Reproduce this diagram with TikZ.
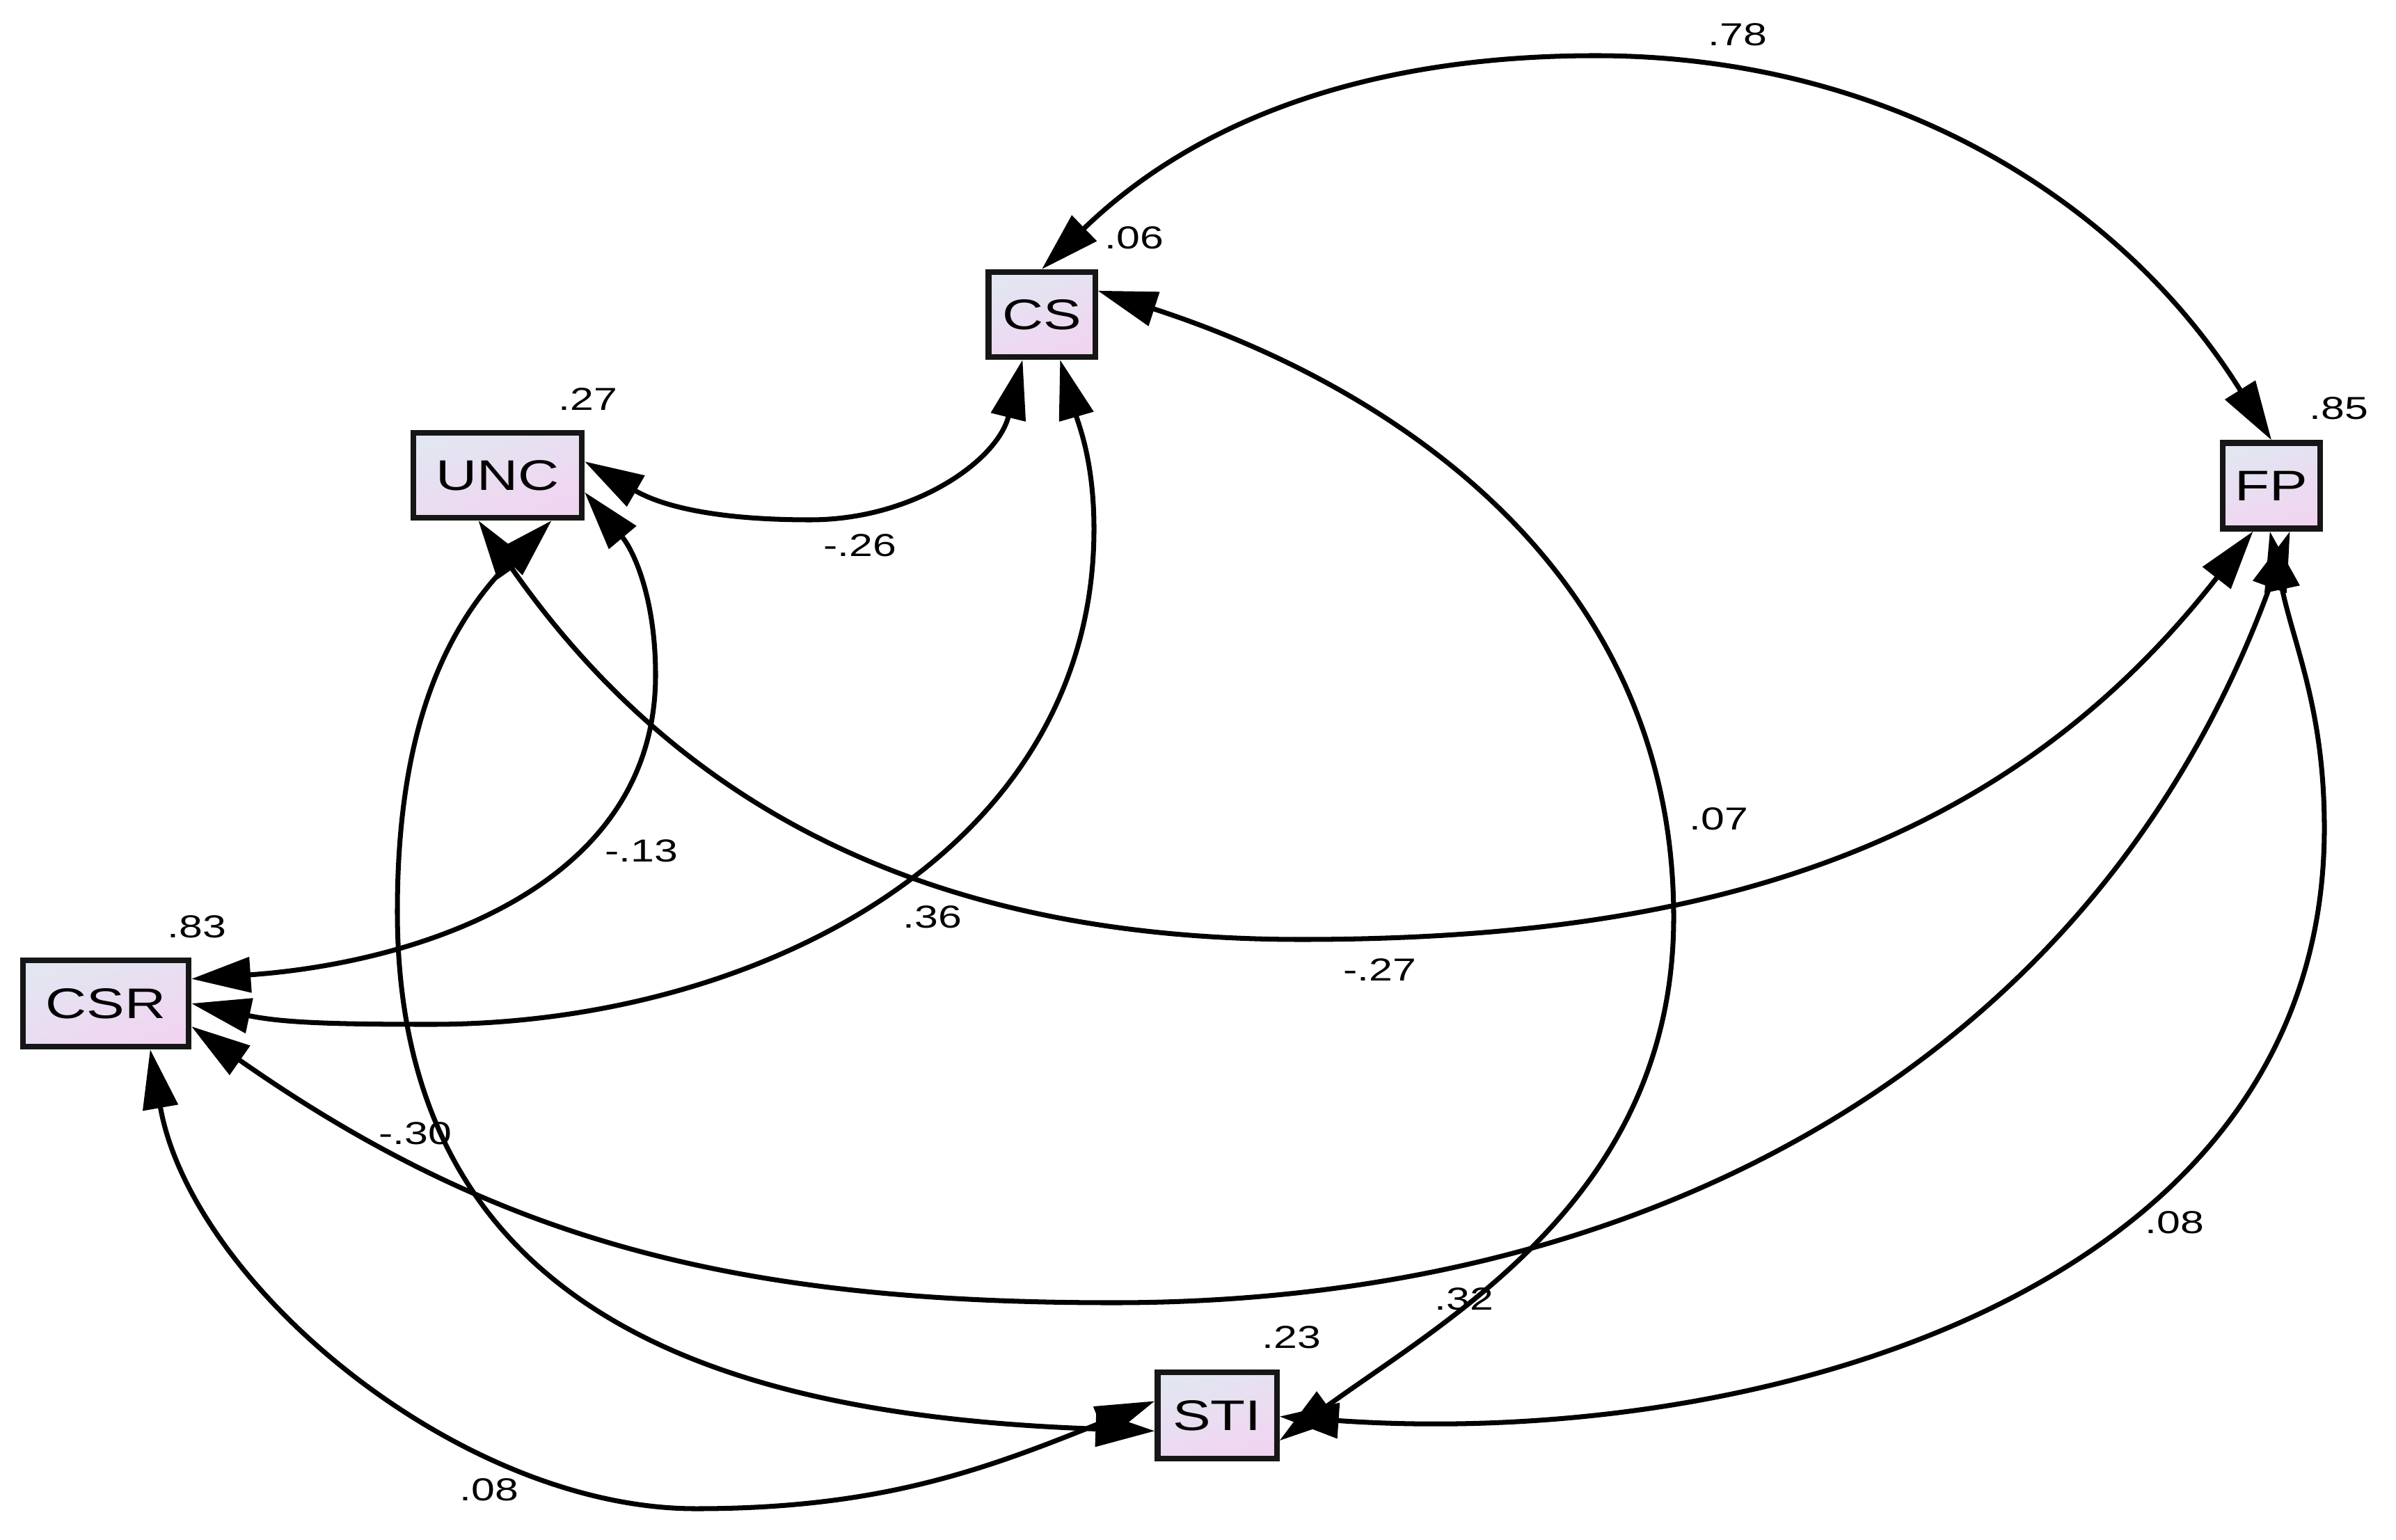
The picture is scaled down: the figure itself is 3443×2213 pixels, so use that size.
\documentclass[tikz,border=0pt]{standalone}
\usepackage{fontspec}
\setmainfont{Liberation Sans}
\newfontfamily\stretchfont[FakeStretch=1.33]{Liberation Sans}
\usetikzlibrary{arrows.meta}
\definecolor{boxA}{RGB}{226,230,241}
\definecolor{boxB}{RGB}{241,212,241}
\definecolor{boxedge}{RGB}{22,22,22}
\begin{document}
\begin{tikzpicture}[x=0.01cm, y=0.01cm,
  var/.style={draw=boxedge, line width=2.3pt, top color=boxA, bottom color=boxB, shading angle=20,
              inner sep=0pt, font=\stretchfont\fontsize{17.5}{20}\selectfont},
  lbl/.style={inner sep=0pt, font=\stretchfont\fontsize{13}{15}\selectfont},
  cov/.style={line width=2pt, {Triangle[length=8.5mm,width=5mm]}-{Triangle[length=8.5mm,width=5mm]}},
]
\fill[white] (0,0) rectangle (3443,-2213);
\useasboundingbox (0,0) rectangle (3443,-2213);

% variables
\node[var, minimum width=1.53cm, minimum height=1.22cm] (CS)  at (1497,-452)  {CS};
\node[var, minimum width=2.42cm, minimum height=1.22cm] (UNC) at (715,-683)   {UNC};
\node[var, minimum width=2.38cm, minimum height=1.24cm] (CSR) at (152,-1442)  {CSR};
\node[var, minimum width=1.40cm, minimum height=1.23cm] (FP)  at (3264,-698)  {FP};
\node[var, minimum width=1.71cm, minimum height=1.24cm] (STI) at (1749,-2034) {STI};

% covariances
\draw[cov] (CS.north) to[out=44, in=180, looseness=0.95] (2293,-80)
           to[out=0, in=122, looseness=0.95] (FP.north);
\draw[cov] (UNC.9) to[out=-30, in=180] (1164,-747) to[out=0, in=-104] (CS.-113);
\draw[cov] (UNC.-11) to[out=-50, in=90] (942,-970) to[out=-90, in=4] (CSR.16);
\draw[cov] (CS.-68) to[out=-74, in=90] (1572,-760) to[out=-90, in=0] (620,-1472)
           to[out=180, in=-12] (CSR.east);
\draw[cov] (UNC.-113) to[out=-55, in=180] (1870,-1350) to[out=0, in=-128] (FP.-112);
\draw[cov] (CSR.-15) to[out=-35, in=180] (1600,-1872) to[out=0, in=-110] (FP.-68);
\draw[cov] (UNC.-40) to[out=-135, in=90] (571,-1310)
           to[out=-90, in=178, looseness=1.15] (STI.194);
\draw[cov] (CSR.-46) to[out=-80, in=180, looseness=0.85] (1000,-2168)
           to[out=0, in=-158] (STI.167);
\draw[cov] (CS.23) to[out=-18, in=90] (2405,-1318)
           .. controls +(0,-400) and +(36:300) .. (STI.-22);
\draw[cov] (FP.-92) to[out=-78, in=90] (3340,-1190) to[out=-90, in=-4] (STI.-1);

% labels
\node[lbl] (l78)  at (2497,-50)   {.78};
\node[lbl] (l06)  at (1630,-342)  {.06};
\node[lbl] (l27)  at (845,-574)   {.27};
\node[lbl] (l83)  at (283,-1332)  {.83};
\node[lbl] (l85)  at (3361,-587)  {.85};
\node[lbl] (l23)  at (1856,-1922) {.23};
\node[lbl] (lm26) at (1236,-784)  {-.26};
\node[lbl] (lm13) at (922,-1223)  {-.13};
\node[lbl] (l36)  at (1340,-1318) {.36};
\node[lbl] (l07)  at (2470,-1177) {.07};
\node[lbl] (lm27) at (1983,-1394) {-.27};
\node[lbl] (lm30) at (597,-1629)  {-.30};
\node[lbl] (l08r) at (3125,-1757) {.08};
\node[lbl] (l32)  at (2104,-1867) {.32};
\node[lbl] (l08b) at (703,-2141)  {.08};
\end{tikzpicture}
\end{document}
